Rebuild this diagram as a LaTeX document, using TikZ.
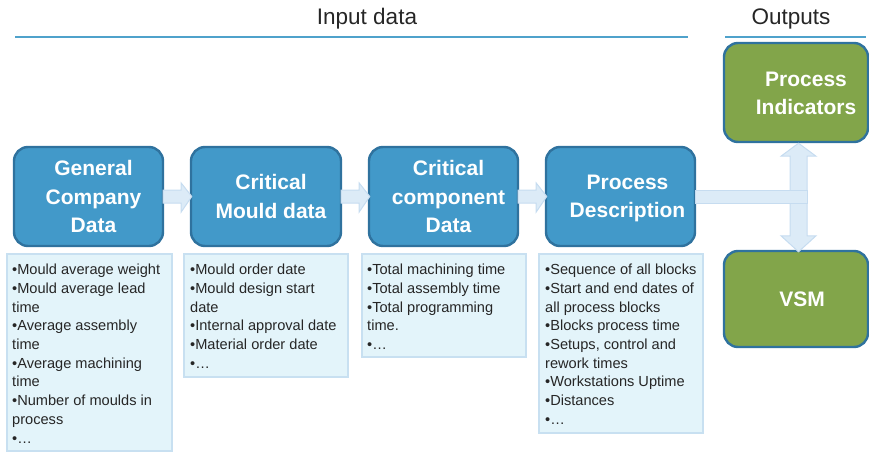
\documentclass[tikz,border=0pt]{standalone}
\usepackage{fontspec}
\setmainfont{Liberation Sans}
\usetikzlibrary{calc}
\definecolor{boxblue}{HTML}{4299C9}
\definecolor{boxedge}{HTML}{2F729E}
\definecolor{boxgreen}{HTML}{82A54A}
\definecolor{listfill}{HTML}{E3F4FA}
\definecolor{listedge}{HTML}{C8E0F1}
\definecolor{arrfill}{HTML}{DCEBF7}
\definecolor{arredge}{HTML}{C6DCF0}
\definecolor{headline}{HTML}{4FA2CB}
\tikzset{
  bluebox/.style={draw=boxedge, fill=boxblue, line width=2.4pt, rounded corners=14pt, inner sep=0pt},
  greenbox/.style={draw=boxedge, fill=boxgreen, line width=2.4pt, rounded corners=14pt, inner sep=0pt},
  boxtext/.style={text=white, align=center, inner sep=0pt, font=\fontsize{21}{28.5}\selectfont\bfseries},
  listbox/.style={draw=listedge, fill=listfill, line width=2pt, inner sep=0pt},
  listtext/.style={anchor=north west, align=left, inner sep=0pt, text=black!85, font=\fontsize{14.6}{18.7}\selectfont},
  blockarr/.style={draw=arredge, fill=arrfill, line width=1pt},
  headtext/.style={font=\fontsize{22.5}{26}\selectfont, text=black!85, inner sep=0pt},
  headrule/.style={draw=headline, line width=2pt}
}
\newcommand{\rightblock}[2]{%
  \path[blockarr] ($(#1.east)+(-1,-6.5)$) -- ($(#1.east)+(17,-6.5)$) -- ($(#1.east)+(17,-13.5)$)
    -- ($(#2.west)+(2,0)$) -- ($(#1.east)+(17,15.5)$) -- ($(#1.east)+(17,6.5)$)
    -- ($(#1.east)+(-1,6.5)$) -- cycle;}
\begin{document}
\begin{tikzpicture}[x=1pt,y=-1pt]
\useasboundingbox (0,0) rectangle (869,452);
% headers
\node[headtext] (hin) at (367,19) {Input data};
\node[headtext] (hout) at (791,19) {Outputs};
\coordinate (hinL) at (15,37);
\coordinate (hinR) at (688,37);
\coordinate (houtL) at (725,37);
\coordinate (houtR) at (866,37);
\draw[headrule] (hinL) -- (hinR);
\draw[headrule] (houtL) -- (houtR);
% list boxes
\node[listbox, minimum width=165, minimum height=197] (l1) at (89.5,352.5) {};
\node[listbox, minimum width=164, minimum height=123] (l2) at (266,315.5) {};
\node[listbox, minimum width=164, minimum height=103] (l3) at (444,305.5) {};
\node[listbox, minimum width=164, minimum height=179] (l4) at (621,343.5) {};
\node[listtext] (lt1) at ($(l1.north west)+(6,11)$) {•Mould average weight\\•Mould average lead\\time\\•Average assembly\\time\\•Average machining\\time\\•Number of moulds in\\process\\•…};
\node[listtext] (lt2) at ($(l2.north west)+(7,11)$) {•Mould order date\\•Mould design start\\date\\•Internal approval date\\•Material order date\\•…};
\node[listtext] (lt3) at ($(l3.north west)+(6,11)$) {•Total machining time\\•Total assembly time\\•Total programming\\time.\\•…};
\node[listtext] (lt4) at ($(l4.north west)+(7,11)$) {•Sequence of all blocks\\•Start and end dates of\\all process blocks\\•Blocks process time\\•Setups, control and\\rework times\\•Workstations Uptime\\•Distances\\•…};
% blue boxes
\node[bluebox, minimum width=149, minimum height=99] (b1) at (88.5,196.5) {};
\node[bluebox, minimum width=150, minimum height=99] (b2) at (266,196.5) {};
\node[bluebox, minimum width=149, minimum height=99] (b3) at (443.5,196.5) {};
\node[bluebox, minimum width=149, minimum height=99] (b4) at (620.5,196.5) {};
\node[boxtext] (t1) at ($(b1.center)+(5,0)$) {General\\Company\\Data};
\node[boxtext] (t2) at ($(b2.center)+(5,0)$) {Critical\\Mould data};
\node[boxtext] (t3) at ($(b3.center)+(5,0)$) {Critical\\component\\Data};
\node[boxtext] (t4) at ($(b4.center)+(7,2)$) {Process\\Description};
% green boxes
\node[greenbox, minimum width=144, minimum height=99] (g1) at (796,92.5) {};
\node[greenbox, minimum width=144, minimum height=96] (g2) at (796,299) {};
\node[boxtext] (tg1) at ($(g1.center)+(10,1)$) {Process\\Indicators};
\node[boxtext] (tg2) at ($(g2.center)+(6,0)$) {VSM};
% arrows between blue boxes
\rightblock{b1}{b2}
\rightblock{b2}{b3}
\rightblock{b3}{b4}
% double vertical arrow
\coordinate (jc) at (798.5,196.5);
\path[blockarr] ($(g1.south)+(2.5,0)$) -- ($(g1.south)+(20,13)$) -- ($(g1.south)+(11,13)$)
  -- ($(g2.north)+(11,-14)$) -- ($(g2.north)+(20,-14)$) -- ($(g2.north)+(2.5,2)$)
  -- ($(g2.north)+(-15,-14)$) -- ($(g2.north)+(-6,-14)$) -- ($(g1.south)+(-6,13)$)
  -- ($(g1.south)+(-15,13)$) -- cycle;
% horizontal bar
\path[blockarr] ($(b4.east)+(-1,-6.5)$) rectangle ($(jc)+(8.5,6.5)$);
\end{tikzpicture}
\end{document}
